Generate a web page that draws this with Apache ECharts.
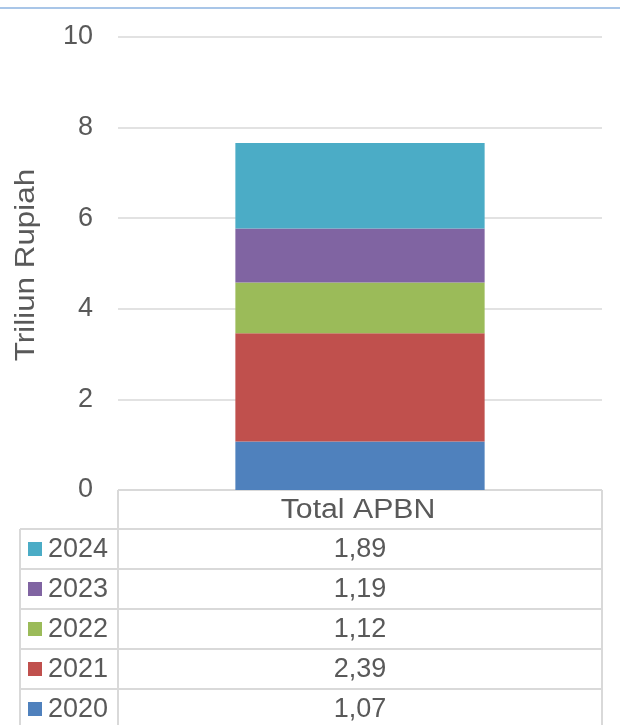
<!DOCTYPE html>
<html>
<head>
<meta charset="utf-8">
<script src="https://cdn.jsdelivr.net/npm/echarts@6/dist/echarts.min.js"></script>
<style>
  html, body { margin: 0; padding: 0; background: #fff; }
  #chart { width: 620px; height: 725px; }
</style>
</head>
<body>
<div id="chart"></div>
<script>
const categories = ['Total APBN']
const years = ['2020', '2021', '2022', '2023', '2024']
const values = [1.07, 2.39, 1.12, 1.19, 1.89]
const colors = ['#4F81BD', '#C0504D', '#9BBB59', '#8064A2', '#4BACC6']
const yTicks = [0, 2, 4, 6, 8, 10]
const yTitle = 'Triliun Rupiah'

const FONT = 'Liberation Sans, Arial, sans-serif'
const TXT = '#595959'
const LINE = '#d9d9d9'

const chart = echarts.init(document.getElementById('chart'))

chart.setOption({
  animation: false,
  grid: { left: 118, right: 18, top: 37, bottom: 235 },
  xAxis: {
    type: 'category',
    data: categories,
    axisLine: { show: false },
    axisTick: { show: false },
    axisLabel: { show: false },
  },
  yAxis: {
    type: 'value',
    min: yTicks[0],
    max: yTicks[yTicks.length - 1],
    interval: 2,
    axisLine: { show: false },
    axisTick: { show: false },
    axisLabel: { color: TXT, fontSize: 27, fontFamily: FONT, margin: 25 },
    splitLine: { lineStyle: { color: LINE, width: 1.5 } },
  },
  series: years.map((y, i) => ({
    name: y,
    type: 'bar',
    stack: 'total',
    barWidth: '51.5%',
    data: [values[i]],
    itemStyle: { color: colors[i] },
  })),
})

// data table under the chart (Excel style), placed from the axis scale
function drawTable() {
  const left = 20, split = 118, right = 602
  const top = chart.convertToPixel({ yAxisIndex: 0 }, 0)
  const headH = 39, rowH = 40
  const els = []
  const line = (x1, y1, x2, y2) => els.push({
    type: 'line', shape: { x1, y1, x2, y2 },
    style: { stroke: LINE, lineWidth: 2 }, silent: true,
  })
  const text = (x, y, t, align, size, sx) => els.push({
    type: 'text', x, y, scaleX: sx || 1,
    style: { text: t, fill: TXT, fontSize: size || 27, fontFamily: FONT, align, verticalAlign: 'middle' },
    silent: true,
  })
  // top thin blue rule
  els.push({ type: 'line', shape: { x1: 0, y1: 8, x2: 620, y2: 8 },
    style: { stroke: '#a9c6e8', lineWidth: 2 }, silent: true })

  // axis title (wide, like the source)
  els.push({
    type: 'text', x: 26, y: 265, rotation: Math.PI / 2, scaleX: 1.12,
    style: { text: yTitle, fill: TXT, fontSize: 28, fontFamily: FONT, align: 'center', verticalAlign: 'middle' },
    silent: true,
  })

  // header
  line(split, top, right, top)
  line(split, top, split, 725)
  line(right, top, right, 725)
  text((split + right) / 2 - 2, top + headH / 2 + 1, categories[0], 'center', 27, 1.12)

  const rowsTop = top + headH
  line(left, rowsTop, right, rowsTop)
  line(left, rowsTop, left, 725)
  const order = years.map((_, i) => i).reverse()
  order.forEach((idx, r) => {
    const y0 = rowsTop + r * rowH
    const cy = y0 + rowH / 2
    line(left, y0 + rowH, right, y0 + rowH)
    els.push({ type: 'rect', shape: { x: 28, y: cy - 7, width: 14, height: 14 },
      style: { fill: colors[idx] }, silent: true })
    text(48, cy + 1, years[idx], 'left')
    text((split + right) / 2, cy + 1, values[idx].toFixed(2).replace('.', ','), 'center')
  })
  chart.setOption({ graphic: els })
}
drawTable()
</script>
</body>
</html>
